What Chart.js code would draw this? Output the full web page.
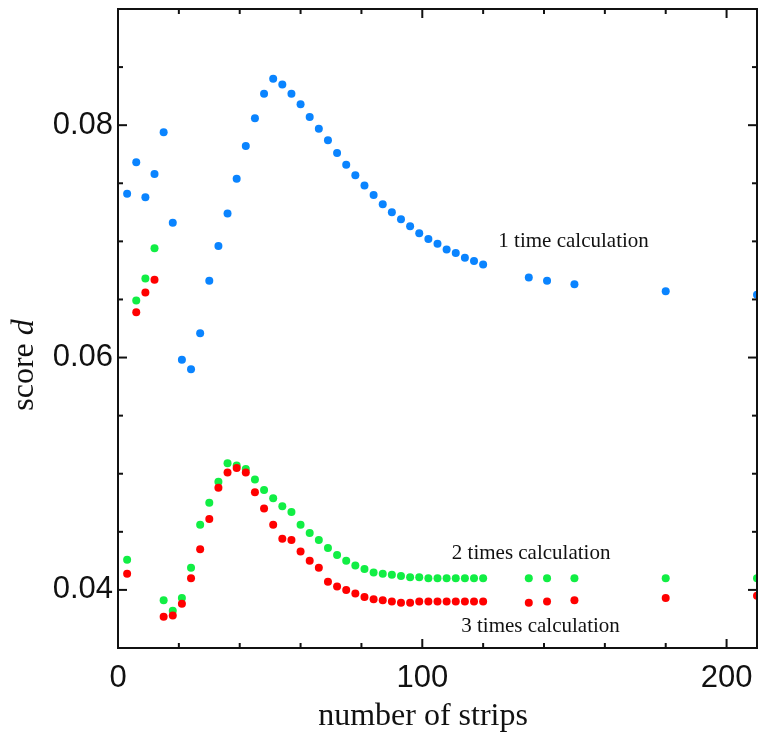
<!DOCTYPE html>
<html>
<head>
<meta charset="utf-8">
<script src="https://cdn.jsdelivr.net/npm/chart.js@4/dist/chart.umd.min.js"></script>
<style>
  body { margin: 0; background: #fff; }
</style>
</head>
<body>
<canvas id="myChart" width="761" height="736"></canvas>
<script>
// score d against number of strips, for 1, 2 and 3 calculation passes

let strips = [3, 6, 9, 12, 15, 18, 21, 24, 27, 30, 33, 36, 39, 42, 45, 48, 51, 54, 57, 60,
              63, 66, 69, 72, 75, 78, 81, 84, 87, 90, 93, 96, 99, 102, 105, 108, 111, 114, 117, 120,
              135, 141, 150, 180, 210];

let once = [0.0741, 0.0768, 0.0738, 0.0758, 0.0794, 0.0716, 0.0598, 0.0590, 0.0621, 0.0666,
            0.0696, 0.0724, 0.0754, 0.0782, 0.0806, 0.0827, 0.0840, 0.0835, 0.0827, 0.0818,
            0.0807, 0.0797, 0.0787, 0.0776, 0.0766, 0.0757, 0.0748, 0.0740, 0.0732, 0.0725,
            0.0719, 0.0713, 0.0707, 0.0702, 0.0698, 0.0693, 0.0690, 0.0686, 0.0683, 0.0680,
            0.0669, 0.0666, 0.0663, 0.0657, 0.0654];

let twice = [0.0426, 0.0649, 0.0668, 0.0694, 0.0391, 0.0382, 0.0393, 0.0419, 0.0456, 0.0475,
             0.0493, 0.0509, 0.0507, 0.0504, 0.0495, 0.0486, 0.0479, 0.0472, 0.0467, 0.0456,
             0.0449, 0.0443, 0.0436, 0.0430, 0.0425, 0.0421, 0.0418, 0.0415, 0.0414, 0.0413,
             0.0412, 0.0411, 0.0411, 0.0410, 0.0410, 0.0410, 0.0410, 0.0410, 0.0410, 0.0410,
             0.0410, 0.0410, 0.0410, 0.0410, 0.0410];

let thrice = [0.0414, 0.0639, 0.0656, 0.0667, 0.0377, 0.0378, 0.0388, 0.0410, 0.0435, 0.0461,
              0.0488, 0.0501, 0.0505, 0.0501, 0.0484, 0.0470, 0.0456, 0.0444, 0.0443, 0.0433,
              0.0425, 0.0419, 0.0407, 0.0403, 0.0400, 0.0397, 0.0394, 0.0392, 0.0391, 0.0390,
              0.0389, 0.0389, 0.0390, 0.0390, 0.0390, 0.0390, 0.0390, 0.0390, 0.0390, 0.0390,
              0.0389, 0.0390, 0.0391, 0.0393, 0.0395];

let xMajorTicks = [0, 100, 200];
let xMinorTicks = [20, 40, 60, 80, 120, 140, 160, 180];
let yMajorTicks = [0.04, 0.06, 0.08];
let yTickLabels = ['0.04', '0.06', '0.08'];
let yMinorTicks = [0.045, 0.05, 0.055, 0.065, 0.07, 0.075, 0.085];

// label text and the (strips, score) point where its baseline starts
let notes = ['1 time calculation', '2 times calculation', '3 times calculation'];
let noteX = [125, 109.7, 112.8];
let noteY = [0.0695, 0.04266, 0.03638];

let colors = ['#0a84ff', '#ff0000', '#11ee44'];

function pts(ys) {
    return strips.map(function(x, i) { return {x: x, y: ys[i]}; });
}

// keep the plot box where the reference has it
function noPad(s) {
    s.paddingTop = 0; s.paddingBottom = 0; s.paddingLeft = 0; s.paddingRight = 0;
}

let frameAndTicks = {
    id: 'frameAndTicks',
    afterDraw: function(chart) {
        let ctx = chart.ctx, a = chart.chartArea;
        let xs = chart.scales.x, ys = chart.scales.y;
        ctx.save();
        ctx.strokeStyle = '#111';
        ctx.lineWidth = 2;
        ctx.strokeRect(a.left, a.top, a.right - a.left, a.bottom - a.top);
        function seg(x1, y1, x2, y2) {
            ctx.beginPath(); ctx.moveTo(x1, y1); ctx.lineTo(x2, y2); ctx.stroke();
        }
        function xt(list, len) {
            list.forEach(function(v) {
                let p = xs.getPixelForValue(v);
                seg(p, a.bottom, p, a.bottom - len);
                seg(p, a.top, p, a.top + len);
            });
        }
        function yt(list, len) {
            list.forEach(function(v) {
                let p = ys.getPixelForValue(v);
                seg(a.left, p, a.left + len, p);
                seg(a.right, p, a.right - len, p);
            });
        }
        xt(xMajorTicks, 9); xt(xMinorTicks, 5);
        yt(yMajorTicks, 9); yt(yMinorTicks, 5);

        // notes next to the curves
        ctx.fillStyle = '#111';
        ctx.font = '21px "Liberation Serif"';
        ctx.textAlign = 'left';
        ctx.textBaseline = 'alphabetic';
        notes.forEach(function(t, i) {
            ctx.fillText(t, xs.getPixelForValue(noteX[i]), ys.getPixelForValue(noteY[i]));
        });

        // x title, sits a little left of the plot centre in the reference
        ctx.font = '32px "Liberation Serif"';
        ctx.textAlign = 'center';
        ctx.fillText('number of strips', 423, 725);

        // y title, "d" in italics
        ctx.textAlign = 'left';
        ctx.translate(33, 365);
        ctx.rotate(-Math.PI / 2);
        let w1 = ctx.measureText('score ').width;
        ctx.font = 'italic 32px "Liberation Serif"';
        let w2 = ctx.measureText('d').width;
        let x0 = -(w1 + w2) / 2;
        ctx.font = '32px "Liberation Serif"';
        ctx.fillText('score ', x0, 0);
        ctx.font = 'italic 32px "Liberation Serif"';
        ctx.fillText('d', x0 + w1, 0);
        ctx.restore();
    }
};

let chart1 = new Chart(document.getElementById('myChart').getContext('2d'), {
    type: 'scatter',
    data: {
        datasets: [
            {label: '1 time', data: pts(once), backgroundColor: colors[0]},
            {label: '3 times', data: pts(thrice), backgroundColor: colors[1]},
            {label: '2 times', data: pts(twice), backgroundColor: colors[2]}
        ]
    },
    options: {
        responsive: false,
        animation: false,
        devicePixelRatio: 1,
        layout: {padding: {top: 9, right: 2, left: 0, bottom: 0}},
        elements: {point: {radius: 4, borderWidth: 0, hoverRadius: 4}},
        plugins: {legend: {display: false}, tooltip: {enabled: false}},
        scales: {
            x: {
                type: 'linear', min: 0, max: 210,
                grid: {display: false, drawTicks: false},
                border: {display: false},
                afterBuildTicks: function(s) {
                    s.ticks = xMajorTicks.map(function(v) { return {value: v}; });
                },
                afterFit: function(s) { s.height = 88; noPad(s); },
                ticks: {
                    autoSkip: false, maxRotation: 0, padding: 12,
                    color: '#111',
                    font: {family: '"Liberation Sans"', size: 31},
                    callback: function(v) { return String(v); }
                }
            },
            y: {
                type: 'linear', min: 0.035, max: 0.09,
                grid: {display: false, drawTicks: false},
                border: {display: false},
                afterBuildTicks: function(s) {
                    s.ticks = yMajorTicks.map(function(v) { return {value: v}; });
                },
                afterFit: function(s) { s.width = 118; noPad(s); },
                ticks: {
                    autoSkip: false, padding: 5,
                    color: '#111',
                    font: {family: '"Liberation Sans"', size: 31},
                    callback: function(v, i) { return yTickLabels[i]; }
                }
            }
        }
    },
    plugins: [frameAndTicks]
});
</script>
</body>
</html>
